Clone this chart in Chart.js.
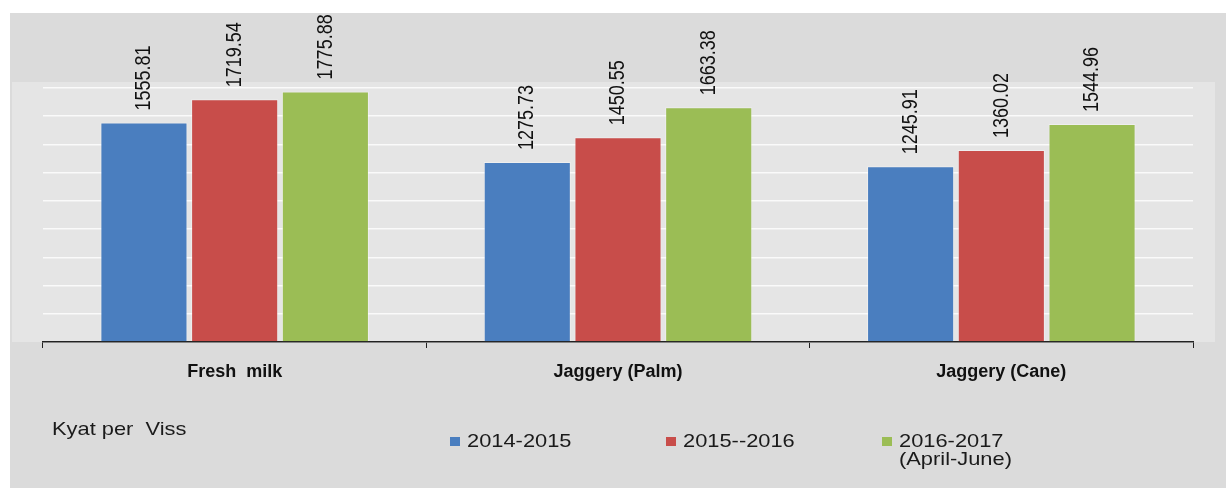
<!DOCTYPE html>
<html lang="en">
<head>
    <meta charset="UTF-8">
    <title>Kyat per Viss</title>
    <script src="https://cdn.jsdelivr.net/npm/chart.js"></script>
    <style>
        html, body { margin: 0; padding: 0; background: #fff; }
        #wrap { width: 1226px; height: 488px; }
    </style>
</head>
<body>
    <div id="wrap"><canvas id="chart" width="1226" height="488"></canvas></div>

    <script>
        const categories = ["Fresh  milk", "Jaggery (Palm)", "Jaggery (Cane)"];
        const seriesNames = ["2014-2015", "2015--2016", "2016-2017"];
        const seriesNotes = ["", "", "(April-June)"];
        const values2014 = [1555.81, 1275.73, 1245.91];
        const values2015 = [1719.54, 1450.55, 1360.02];
        const values2016 = [1775.88, 1663.38, 1544.96];
        const unitLabel = "Kyat per  Viss";
        const yMax = 1800, yStep = 200;

        const colors = ["#4a7ebf", "#c84d4a", "#9bbd55"];
        const fontFamily = "Arial, 'Liberation Sans', sans-serif";

        // background: white margin, gray panel, lighter plot band
        const backgroundPlugin = {
            id: "panel",
            beforeDraw(chart) {
                const ctx = chart.ctx;
                const area = chart.chartArea;
                ctx.save();
                ctx.fillStyle = "#ffffff";
                ctx.fillRect(0, 0, chart.width, chart.height);
                ctx.fillStyle = "#dbdbdb";
                ctx.fillRect(10, 13, chart.width - 10, chart.height - 13);
                ctx.fillStyle = "#e5e5e5";
                ctx.fillRect(12, area.top - 6, area.right + 22 - 12, area.bottom - area.top + 6);
                ctx.restore();
            }
        };

        // rotated value labels above the bars
        const valueLabels = {
            id: "valueLabels",
            afterDatasetsDraw(chart) {
                const ctx = chart.ctx;
                chart.data.datasets.forEach((ds, di) => {
                    const meta = chart.getDatasetMeta(di);
                    meta.data.forEach((bar, i) => {
                        ctx.save();
                        ctx.translate(bar.x, bar.y - 12);
                        ctx.rotate(-Math.PI / 2);
                        ctx.scale(1, 1.25);
                        ctx.font = "18px " + fontFamily;
                        ctx.fillStyle = "#111";
                        ctx.textAlign = "left";
                        ctx.textBaseline = "middle";
                        ctx.fillText(ds.data[i].toFixed(2), 0, 0);
                        ctx.restore();
                    });
                });
            }
        };

        // unit text and legend row under the axis
        const bottomLegend = {
            id: "bottomLegend",
            afterDraw(chart) {
                const ctx = chart.ctx;
                const stretch = 1.15;
                const drawText = (txt, x, y) => {
                    ctx.save();
                    ctx.translate(x, y);
                    ctx.scale(stretch, 1);
                    ctx.fillText(txt, 0, 0);
                    ctx.restore();
                };
                ctx.save();
                ctx.font = "19px " + fontFamily;
                ctx.fillStyle = "#1a1a1a";
                ctx.textAlign = "left";
                ctx.textBaseline = "middle";
                drawText(unitLabel, 52, 430);

                chart.data.datasets.forEach((ds, i) => {
                    const x = 450 + i * 216;
                    ctx.fillStyle = ds.backgroundColor;
                    ctx.fillRect(x, 437, 10, 9);
                    ctx.fillStyle = "#1a1a1a";
                    drawText(ds.label, x + 17, 442);
                    if (seriesNotes[i]) drawText(seriesNotes[i], x + 17, 460);
                });
                ctx.restore();
            }
        };

        const datasets = [values2014, values2015, values2016].map((vals, i) => ({
            label: seriesNames[i],
            data: vals,
            backgroundColor: colors[i],
            borderColor: "rgba(255,255,255,0.35)",
            borderWidth: 1,
            categoryPercentage: 0.71,
            barPercentage: 0.96
        }));

        new Chart(document.getElementById("chart").getContext("2d"), {
            type: "bar",
            data: { labels: categories, datasets: datasets },
            plugins: [backgroundPlugin, valueLabels, bottomLegend],
            options: {
                responsive: false,
                animation: false,
                devicePixelRatio: 1,
                layout: { padding: { left: 43, right: 33, top: 88, bottom: 0 } },
                plugins: {
                    legend: { display: false },
                    tooltip: { enabled: false }
                },
                scales: {
                    x: {
                        afterFit(scale) { scale.height = 146; },
                        grid: {
                            offset: true,
                            drawOnChartArea: false,
                            drawTicks: true,
                            tickLength: 6,
                            color: "#222"
                        },
                        border: { display: true, color: "#222", width: 1.5 },
                        ticks: {
                            padding: 13,
                            color: "#111",
                            font: { family: fontFamily, size: 18, weight: "bold" }
                        }
                    },
                    y: {
                        min: 0,
                        max: yMax,
                        afterFit(scale) { scale.width = 0; },
                        ticks: { display: false, stepSize: yStep },
                        grid: { color: "rgba(255,255,255,0.8)", lineWidth: 1.5, drawTicks: false },
                        border: { display: false }
                    }
                }
            }
        });
    </script>
</body>
</html>
